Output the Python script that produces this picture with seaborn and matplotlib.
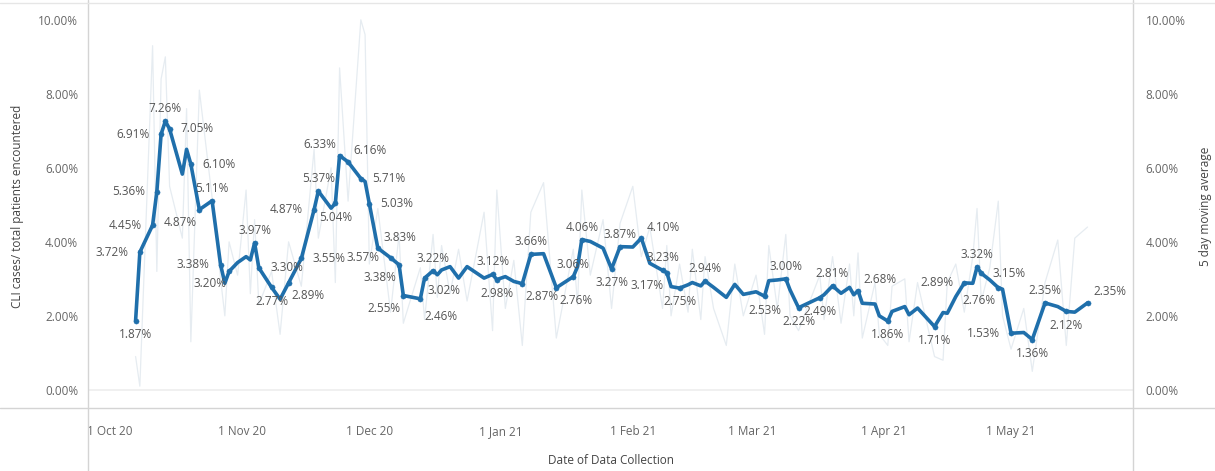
import pandas as pd
import seaborn as sns
import matplotlib.pyplot as plt
import matplotlib.dates as mdates
from matplotlib.ticker import PercentFormatter, FixedLocator
from matplotlib.lines import Line2D

start = pd.Timestamp('2020-10-01')

# collection dates, as day offsets from 1 Oct 2020
day_offsets = [6, 7, 10, 11, 12, 13, 14, 17, 18, 19, 21, 24, 26, 27, 28, 30, 32, 33, 34, 35,
               38, 40, 42, 45, 48, 49, 52, 53, 54, 56, 59, 60, 61, 63, 66, 68, 69, 73, 74, 76,
               77, 78, 80, 82, 84, 88, 90, 91, 93, 95, 97, 99, 102, 105, 109, 110, 111, 113, 116, 118,
               120, 123, 125, 127, 130, 131, 132, 134, 136, 137, 139, 140, 142, 145, 147, 149, 152, 154, 155, 157,
               159, 160, 162, 167, 168, 170, 172, 174, 175, 176, 177, 180, 181, 183, 184, 187, 188, 190, 194, 196,
               197, 199, 201, 203, 204, 205, 207, 209, 210, 212, 215, 217, 220, 223, 225, 227, 230]

# 5 day moving average (%)
moving_avg = [1.87, 3.72, 4.45, 5.36, 6.91, 7.26, 7.05, 5.83, 6.50, 6.10, 4.87, 5.11, 3.38, 2.88, 3.20, 3.44, 3.60, 3.51, 3.97, 3.30,
              2.77, 2.45, 2.89, 3.55, 4.87, 5.37, 4.91, 5.04, 6.33, 6.16, 5.71, 5.63, 5.03, 3.83, 3.57, 3.38, 2.55, 2.46, 3.02, 3.22,
              3.11, 3.24, 3.33, 3.02, 3.33, 3.02, 3.12, 2.98, 3.06, 2.93, 2.87, 3.66, 3.68, 2.76, 3.06, 3.33, 4.06, 4.01, 3.83, 3.27,
              3.87, 3.86, 4.10, 3.42, 3.23, 3.17, 2.79, 2.75, 2.84, 2.90, 2.81, 2.94, 2.77, 2.50, 2.85, 2.58, 2.65, 2.53, 2.95, 2.97,
              3.00, 2.70, 2.22, 2.49, 2.57, 2.81, 2.61, 2.77, 2.57, 2.68, 2.34, 2.32, 2.00, 1.86, 2.12, 2.25, 2.03, 2.21, 1.71, 2.09,
              2.07, 2.52, 2.89, 2.88, 3.32, 3.15, 2.97, 2.76, 2.72, 1.53, 1.55, 1.36, 2.35, 2.25, 2.12, 2.10, 2.35]

# daily CLI cases / total patients encountered (%)
daily_rate = [0.9, 0.1, 9.3, 3.2, 8.4, 9.0, 5.5, 4.1, 7.6, 1.3, 8.1, 5.2, 3.0, 2.0, 4.0, 3.1, 5.4, 2.6, 4.6, 2.3,
              3.2, 1.5, 4.0, 2.8, 6.5, 4.1, 6.0, 2.9, 8.7, 5.1, 10.0, 9.6, 3.4, 4.9, 2.1, 4.2, 1.8, 3.3, 1.9, 4.2,
              2.5, 3.9, 2.6, 3.8, 2.4, 4.8, 1.6, 5.4, 2.2, 3.5, 1.2, 4.8, 5.6, 1.4, 3.8, 2.3, 5.4, 3.1, 4.6, 2.2,
              4.5, 5.5, 3.6, 4.4, 2.2, 3.9, 2.0, 3.4, 2.1, 3.8, 1.9, 3.6, 2.2, 1.2, 3.4, 2.0, 3.1, 1.5, 3.9, 2.2,
              4.2, 2.0, 1.6, 3.1, 1.9, 3.6, 1.8, 3.4, 2.0, 3.7, 1.4, 2.9, 1.5, 1.2, 2.8, 3.0, 1.3, 2.9, 0.9, 0.8,
              2.9, 3.4, 2.1, 3.6, 4.9, 2.4, 3.3, 5.1, 2.0, 1.1, 2.2, 0.5, 2.9, 4.05, 1.2, 4.1, 4.4]

# which points carry a value label, and where the label sits
label_days = [6, 7, 10, 11, 12, 13, 14, 19, 21, 24, 26, 28, 34, 35, 38, 42, 45, 48, 49, 53,
              54, 56, 59, 61, 63, 66, 68, 69, 73, 74, 76, 90, 91, 97, 99, 105, 109, 111, 118, 120,
              125, 130, 131, 134, 140, 154, 159, 162, 167, 170, 176, 183, 194, 201, 204, 205, 209, 212, 217, 220,
              225, 230]
label_pos = ['b', 'l', 'l', 'l', 'l', 'a', 'r', 'r', 'bl', 'a', 'l', 'bl', 'a', 'r', 'b', 'br', 'r', 'l', 'a', 'b',
             'al', 'ar', 'r', 'r', 'ar', 'l', 'bl', 'bl', 'bbr', 'br', 'a', 'a', 'b', 'br', 'a', 'br', 'a', 'a', 'b', 'a',
             'ar', 'a', 'bl', 'b', 'a', 'b', 'a', 'b', 'b', 'a', 'ar', 'b', 'b', 'l', 'a', 'r', 'bl', 'l', 'b', 'a',
             'b', 'ar']

df = pd.DataFrame({'date': [start + pd.Timedelta(days=d) for d in day_offsets],
                   'ma': moving_avg, 'daily': daily_rate})

sns.set_theme(style='white')
plt.rcParams['font.family'] = ['Open Sans', 'DejaVu Sans']

fig = plt.figure(figsize=(12.15, 4.71), dpi=100)
ax = fig.add_axes([88 / 1215, 1 - 408 / 471, (1133 - 88) / 1215, (408 - 5) / 471])

line_blue = '#1f6fab'
sns.lineplot(data=df, x='date', y='daily', ax=ax, color='#e6ecf1', lw=0.9)
sns.lineplot(data=df, x='date', y='ma', ax=ax, color=line_blue, lw=2.6)

lab = df[df['date'].isin([start + pd.Timedelta(days=d) for d in label_days])]
sns.scatterplot(data=lab, x='date', y='ma', ax=ax, color=line_blue, s=14, edgecolor=line_blue, zorder=5)

offsets = {'a': (0, 9), 'b': (0, -10), 'l': (-20, 0), 'r': (20, 0),
           'al': (-14, 8), 'ar': (16, 8), 'bl': (-14, -9), 'br': (14, -9), 'bbr': (15, -13)}
for d, p in zip(label_days, label_pos):
    v = moving_avg[day_offsets.index(d)]
    ax.annotate(f'{v:.2f}%', (start + pd.Timedelta(days=d), v), xytext=offsets[p],
                textcoords='offset points', ha='center', va='center', fontsize=8.5, color='#555555')

ax.set_xlim(start - pd.Timedelta(days=5.2), start + pd.Timedelta(days=240.7))
ax.set_ylim(-0.49, 10.4)
ax.axhline(0, color='#eeeeee', lw=1.2, zorder=0)

month_ticks = pd.date_range('2020-10-01', '2021-05-01', freq='MS')
ax.xaxis.set_major_locator(FixedLocator(mdates.date2num(month_ticks)))
ax.xaxis.set_major_formatter(mdates.DateFormatter('1 %b %y'))
ax.set_yticks([0, 2, 4, 6, 8, 10])
ax.yaxis.set_major_formatter(PercentFormatter(xmax=100, decimals=2))
ax.tick_params(axis='both', length=0, labelsize=8.5, labelcolor='#666666')
ax.tick_params(axis='x', pad=12)
ax.tick_params(axis='y', pad=7)
ax.set_xlabel('Date of Data Collection', fontsize=8.5, color='#444444', labelpad=12)
ax.set_ylabel('CLI cases/ total patients encountered', fontsize=8.5, color='#444444', labelpad=10)
for s in ax.spines.values():
    s.set_visible(False)

ax2 = ax.twinx()
ax2.set_ylim(ax.get_ylim())
ax2.set_yticks([0, 2, 4, 6, 8, 10])
ax2.yaxis.set_major_formatter(PercentFormatter(xmax=100, decimals=2))
ax2.tick_params(axis='y', length=0, labelsize=8.5, labelcolor='#666666', pad=9)
ax2.set_ylabel('5 day moving average', fontsize=8.5, color='#444444', labelpad=10)
for s in ax2.spines.values():
    s.set_visible(False)

# pane borders like the dashboard
border = '#d4d4d4'
fig.add_artist(Line2D([88 / 1215, 88 / 1215], [0, 1], color=border, lw=1))
fig.add_artist(Line2D([1133 / 1215, 1133 / 1215], [0, 1], color=border, lw=1))
fig.add_artist(Line2D([0, 1], [1 - 408 / 471] * 2, color=border, lw=1))
fig.add_artist(Line2D([0, 1], [1 - 3 / 471] * 2, color='#e6e6e6', lw=1))

fig.savefig('out.png', dpi=100)
